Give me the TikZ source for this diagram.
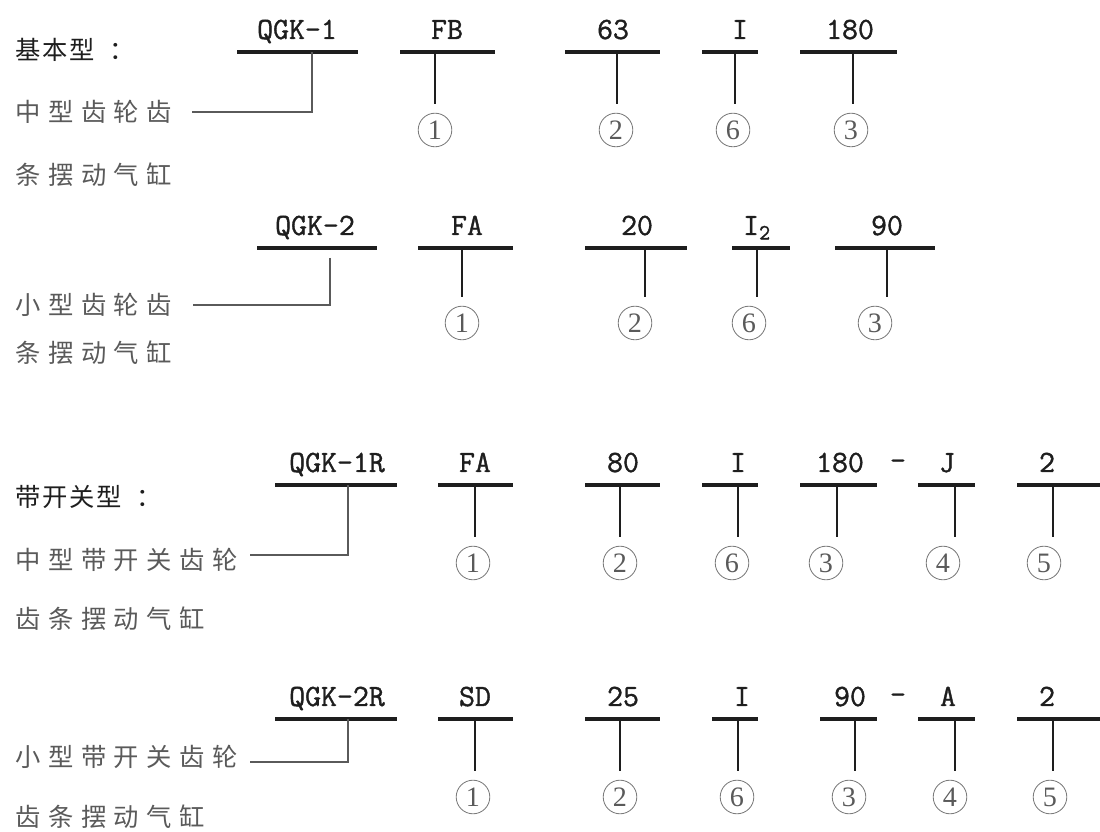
\documentclass[tikz,border=0pt]{standalone}
\usepackage{fontspec}
\setmainfont{Liberation Serif}
\newfontfamily\codefont[FakeBold=1.2]{Latin Modern Mono}
\newfontfamily\cjkhead[LetterSpace=6.5]{Noto Sans CJK SC}
\newfontfamily\cjkwide[LetterSpace=30]{Noto Sans CJK SC}
\usetikzlibrary{calc}
\definecolor{ink}{HTML}{1E1E1E}
\definecolor{grey}{HTML}{5A5A5A}

\begin{document}
\begin{tikzpicture}[x=0.025cm,y=-0.025cm,
  head/.style={anchor=west,inner sep=0pt,text=ink,font=\cjkhead\fontsize{18}{21}\selectfont},
  desc/.style={anchor=west,inner sep=0pt,text=grey,font=\cjkwide\fontsize{18}{21}\selectfont},
  code/.style={anchor=base,inner sep=0pt,text=ink,font=\codefont\fontsize{22}{25}\selectfont},
  num/.style={circle,draw=grey!80,line width=0.6pt,minimum size=0.84cm,inner sep=0pt,text=grey,font=\fontsize{20}{22}\selectfont},
  bar/.style={line width=2.8pt,ink},
  stem/.style={line width=2.1pt,ink,shorten >=0.22cm},
  lead/.style={line width=0.9pt,grey}]
\useasboundingbox (0,0) rectangle (1100,832);

% basic type
\node[head] (h1) at (15,50) {基本型\hspace{0.6em}：};
\node[desc] (d1) at (15,112) {中型齿轮齿};
\node[desc] (d1b) at (15,175) {条摆动气缸};
\node[code] (q1) at (297,39) {QGK-1};
\draw[bar] (237,52) -- (358,52);
\coordinate (k1) at (312,52);
\coordinate (e1) at (192,112);
\draw[lead] (k1) |- (e1);
\foreach \t/\tx/\l/\r/\s/\d/\cx [count=\i] in {FB/447/400/495/435/1/435,63/613/565/660/617/2/616,I/740/702/758/735/6/733,180/850/800/897/853/3/851}{
  \node[code] (ca\i) at (\tx,39) {\t};
  \draw[bar] (\l,52) -- (\r,52);
  \coordinate (sa\i) at (\s,52);
  \node[num] (na\i) at (\cx,130) {\d};
  \draw[stem] (sa\i) -- (sa\i |- na\i.north);
}

\node[desc] (d2) at (15,305) {小型齿轮齿};
\node[desc] (d2b) at (15,353) {条摆动气缸};
\node[code] (q2) at (315,235) {QGK-2};
\draw[bar] (257,248) -- (377,248);
\coordinate (k2) at (330,258);
\coordinate (e2) at (193,305);
\draw[lead] (k2) |- (e2);
\foreach \t/\tx/\l/\r/\s/\d/\cx [count=\i] in {FA/467/418/513/462/1/462,20/637/585/687/645/2/635,{I\textsubscript{2}}/757/732/790/757/6/749,90/887/835/935/887/3/875}{
  \node[code] (cb\i) at (\tx,235) {\t};
  \draw[bar] (\l,248) -- (\r,248);
  \coordinate (sb\i) at (\s,248);
  \node[num] (nb\i) at (\cx,323) {\d};
  \draw[stem] (sb\i) -- (sb\i |- nb\i.north);
}

% with switch
\node[head] (h3) at (15,497) {带开关型\hspace{0.6em}：};
\node[desc] (d3) at (15,560) {中型带开关齿轮};
\node[desc] (d3b) at (15,619) {齿条摆动气缸};
\node[code] (q3) at (337,472) {QGK-1R};
\draw[bar] (275,485) -- (397,485);
\coordinate (k3) at (348,485);
\coordinate (e3) at (250,555);
\draw[lead] (k3) |- (e3);
\node[code] (m3) at (898,470) {-};
\foreach \t/\tx/\l/\r/\s/\d/\cx [count=\i] in {FA/475/438/513/475/1/473,80/623/585/660/620/2/620,I/738/702/758/738/6/732,180/840/800/877/837/3/826,J/947/918/975/955/4/943,2/1047/1017/1100/1053/5/1044}{
  \node[code] (cc\i) at (\tx,472) {\t};
  \draw[bar] (\l,485) -- (\r,485);
  \coordinate (sc\i) at (\s,485);
  \node[num] (nc\i) at (\cx,563) {\d};
  \draw[stem] (sc\i) -- (sc\i |- nc\i.north);
}

\node[desc] (d4) at (15,757) {小型带开关齿轮};
\node[desc] (d4b) at (15,817) {齿条摆动气缸};
\node[code] (q4) at (337,706) {QGK-2R};
\draw[bar] (275,719) -- (397,719);
\coordinate (k4) at (348,719);
\coordinate (e4) at (250,762);
\draw[lead] (k4) |- (e4);
\node[code] (m4) at (898,704) {-};
\foreach \t/\tx/\l/\r/\s/\d/\cx [count=\i] in {SD/475/438/513/475/1/473,25/623/585/660/620/2/620,I/742/712/758/738/6/737,90/850/820/877/855/3/849,A/948/918/975/955/4/950,2/1047/1017/1100/1053/5/1050}{
  \node[code] (cd\i) at (\tx,706) {\t};
  \draw[bar] (\l,719) -- (\r,719);
  \coordinate (sd\i) at (\s,719);
  \node[num] (nd\i) at (\cx,797) {\d};
  \draw[stem] (sd\i) -- (sd\i |- nd\i.north);
}
\end{tikzpicture}
\end{document}
